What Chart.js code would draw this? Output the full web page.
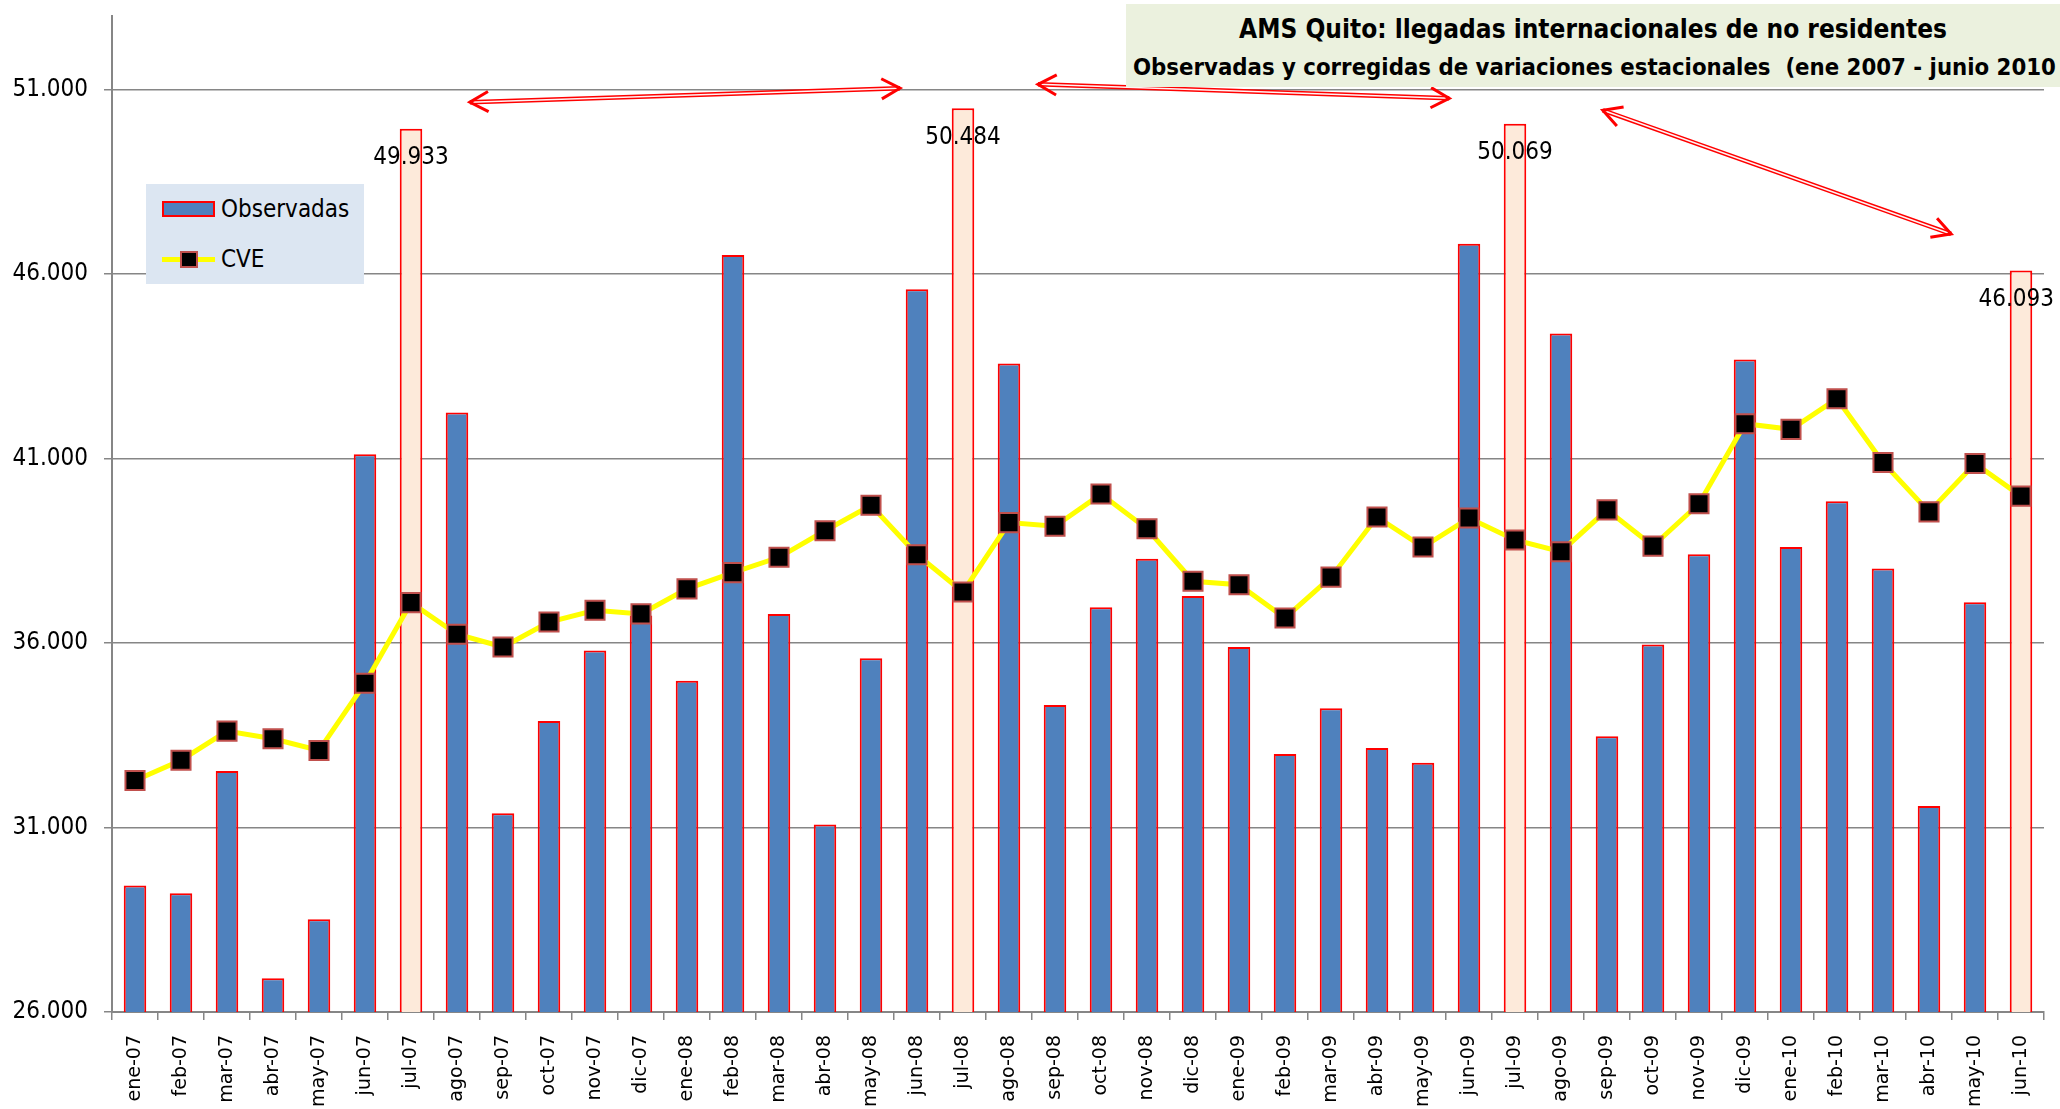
<!DOCTYPE html>
<html>
<head>
<meta charset="utf-8">
<script src="https://cdn.jsdelivr.net/npm/chart.js@4/dist/chart.umd.min.js"></script>
<style>
  body { margin: 0; background: #fff; }
  #marco { position: relative; width: 2060px; height: 1109px; overflow: hidden; }
  #grafico { position: absolute; left: 0; top: 0; }
  #titulo {
    position: absolute; left: 1126px; top: 4px; width: 934px; height: 83px;
    background: #EBF1DE; overflow: hidden; white-space: nowrap;
    font-family: "DejaVu Sans Condensed", "DejaVu Sans", sans-serif; font-weight: bold; color: #000;
  }
  #titulo .l1 { position: absolute; left: 0; width: 934px; top: 10px; text-align: center; font-size: 26px; }
  #titulo .l2 { position: absolute; left: 7px; top: 49px; font-size: 23.7px; }
  #leyenda {
    position: absolute; left: 146px; top: 184px; width: 218px; height: 100px;
    background: #DCE6F2; font-family: "DejaVu Sans Condensed", "DejaVu Sans", sans-serif; font-size: 24px;
  }
  #leyenda .txt { position: absolute; left: 75px; line-height: 30px; }
  .swBar { position: absolute; left: 16px; top: 17px; width: 53px; height: 16px; box-sizing: border-box;
    background: #4F81BD; border: 2px solid #FF0000; }
  .swLinea { position: absolute; left: 16px; top: 73px; width: 53px; height: 5px; background: #FFFF00; }
  .swPunto { position: absolute; left: 34px; top: 67px; width: 18px; height: 17px; box-sizing: border-box;
    background: #000; border: 2px solid #C0504D; }
</style>
</head>
<body>
<div id="marco">
  <canvas id="grafico" width="2060" height="1109"></canvas>
  <div id="titulo">
    <div class="l1">AMS Quito: llegadas internacionales de no residentes</div>
    <div class="l2">Observadas y corregidas de variaciones estacionales&nbsp; (ene 2007 - junio 2010</div>
  </div>
  <div id="leyenda"></div>
</div>
<script>
const meses = [
  'ene-07', 'feb-07', 'mar-07', 'abr-07', 'may-07', 'jun-07', 'jul-07', 'ago-07', 'sep-07', 'oct-07', 'nov-07', 'dic-07',
  'ene-08', 'feb-08', 'mar-08', 'abr-08', 'may-08', 'jun-08', 'jul-08', 'ago-08', 'sep-08', 'oct-08', 'nov-08', 'dic-08',
  'ene-09', 'feb-09', 'mar-09', 'abr-09', 'may-09', 'jun-09', 'jul-09', 'ago-09', 'sep-09', 'oct-09', 'nov-09', 'dic-09',
  'ene-10', 'feb-10', 'mar-10', 'abr-10', 'may-10', 'jun-10'
];

const observadas = [
  29425, 29218, 32533, 26912, 28514, 41110, 49933, 42243, 31387, 33887, 35793, 36746,
  34978, 46511, 36787, 31083, 35586, 45586, 50484, 43569, 34315, 36967, 38279, 37271,
  35890, 32989, 34232, 33155, 32754, 46815, 50069, 44384, 33472, 35959, 38403, 43680,
  38597, 39840, 38017, 31580, 37105, 46093
];

const cve = [
  32271, 32823, 33610, 33403, 33086, 34909, 37091, 36235, 35890, 36566, 36884, 36787,
  37464, 37906, 38320, 39039, 39729, 38390, 37381, 39260, 39163, 40033, 39094, 37671,
  37575, 36677, 37782, 39412, 38597, 39384, 38790, 38472, 39605, 38624, 39771, 41939,
  41787, 42616, 40890, 39550, 40862, 39978
];

// meses resaltados (picos de julio y el ultimo dato), con etiqueta de valor
const destacados = [6, 18, 30, 41];

// eje y
const yMin = 26000;
const yMax = 53000;
const yTicks = [26000, 31000, 36000, 41000, 46000, 51000];

// flechas dobles entre picos (indice de mes, valor)
const flechas = [
  [7.28, 50650, 16.63, 51030],
  [19.63, 51135, 28.57, 50757],
  [31.91, 50432, 39.48, 47081]
];

function miles(v) {
  return String(Math.round(v)).replace(/\B(?=(\d{3})+(?!\d))/g, '.');
}

const fuente = '"DejaVu Sans Condensed", "DejaVu Sans", sans-serif';

const coloresBarras = meses.map((m, i) => destacados.includes(i) ? '#FDEADA' : '#4F81BD');

const etiquetas = {
  id: 'etiquetas',
  afterDatasetsDraw(chart) {
    const ctx = chart.ctx;
    const meta = chart.getDatasetMeta(1);
    ctx.save();
    ctx.font = '24px ' + fuente;
    ctx.fillStyle = '#000';
    ctx.textAlign = 'center';
    ctx.textBaseline = 'middle';
    destacados.forEach(i => {
      const bar = meta.data[i];
      const txt = miles(observadas[i]);
      const w = ctx.measureText(txt).width;
      let x = bar.x;
      if (x + w / 2 > chart.width - 6) x = chart.width - 6 - w / 2;
      ctx.fillText(txt, x, bar.y + 29);
    });
    ctx.restore();
  }
};

function punta(ctx, xt, yt, ang) {
  const L = 21, a = 0.5;
  ctx.beginPath();
  ctx.moveTo(xt + L * Math.cos(ang + a), yt + L * Math.sin(ang + a));
  ctx.lineTo(xt, yt);
  ctx.lineTo(xt + L * Math.cos(ang - a), yt + L * Math.sin(ang - a));
  ctx.stroke();
}

const anotaciones = {
  id: 'anotaciones',
  afterDraw(chart) {
    const ctx = chart.ctx;
    const sx = chart.scales.x, sy = chart.scales.y;
    ctx.save();
    flechas.forEach(f => {
      const x0 = sx.getPixelForValue(f[0]), y0 = sy.getPixelForValue(f[1]);
      const x1 = sx.getPixelForValue(f[2]), y1 = sy.getPixelForValue(f[3]);
      ctx.lineCap = 'butt';
      ctx.strokeStyle = '#FF0000';
      ctx.lineWidth = 4.5;
      ctx.beginPath(); ctx.moveTo(x0, y0); ctx.lineTo(x1, y1); ctx.stroke();
      ctx.strokeStyle = '#FFF4F4';
      ctx.lineWidth = 1.5;
      ctx.beginPath(); ctx.moveTo(x0, y0); ctx.lineTo(x1, y1); ctx.stroke();
      ctx.strokeStyle = '#FF0000';
      ctx.lineWidth = 3;
      ctx.lineJoin = 'miter';
      const ang = Math.atan2(y1 - y0, x1 - x0);
      punta(ctx, x0, y0, ang);
      punta(ctx, x1, y1, ang + Math.PI);
    });
    ctx.restore();
  }
};

const grafico = new Chart(document.getElementById('grafico').getContext('2d'), {
  data: {
    labels: meses,
    datasets: [
      {
        type: 'line',
        label: 'CVE',
        data: cve,
        order: 0,
        borderColor: '#FFFF00',
        borderWidth: 5,
        tension: 0,
        pointStyle: 'rect',
        pointRadius: 13.5,
        pointBackgroundColor: '#000000',
        pointBorderColor: '#C0504D',
        pointBorderWidth: 2
      },
      {
        type: 'bar',
        label: 'Observadas',
        data: observadas,
        order: 1,
        backgroundColor: coloresBarras,
        borderColor: '#FF0000',
        borderWidth: 2,
        borderSkipped: false,
        barPercentage: 0.49,
        categoryPercentage: 1
      }
    ]
  },
  options: {
    responsive: false,
    animation: false,
    devicePixelRatio: 1,
    layout: { padding: { top: 13, right: 16, left: 0, bottom: 0 } },
    plugins: {
      legend: { display: false },
      title: { display: false },
      tooltip: { enabled: false }
    },
    scales: {
      x: {
        offset: true,
        grid: {
          offset: true,
          drawOnChartArea: false,
          drawTicks: true,
          tickLength: 8,
          color: '#868686',
          lineWidth: 1.5
        },
        border: { color: '#868686', width: 2 },
        ticks: {
          minRotation: 90,
          maxRotation: 90,
          autoSkip: false,
          padding: 15,
          color: '#000',
          font: { family: 'DejaVu Sans', size: 19 }
        },
        afterFit(scale) {
          scale.height = 97;
          scale.paddingLeft = 0;
          scale.paddingRight = 0;
        }
      },
      y: {
        min: yMin,
        max: yMax,
        grid: { color: '#868686', lineWidth: 1.5, tickLength: 8 },
        border: { color: '#868686', width: 2 },
        ticks: {
          padding: 16,
          color: '#000',
          font: { family: fuente, size: 24 },
          callback: v => miles(v)
        },
        afterBuildTicks(scale) {
          scale.ticks = yTicks.map(v => ({ value: v }));
        },
        afterFit(scale) {
          scale.width = 112;
          scale.paddingTop = 0;
          scale.paddingBottom = 0;
        }
      }
    }
  },
  plugins: [etiquetas, anotaciones]
});

// leyenda propia dentro del area del grafico
const leyenda = document.getElementById('leyenda');
const dsBar = grafico.data.datasets[1], dsLinea = grafico.data.datasets[0];
leyenda.innerHTML =
  '<div class="swBar"></div><div class="txt" style="top:10px">' + dsBar.label + '</div>' +
  '<div class="swLinea"></div><div class="swPunto"></div><div class="txt" style="top:60px">' + dsLinea.label + '</div>';
</script>
</body>
</html>
